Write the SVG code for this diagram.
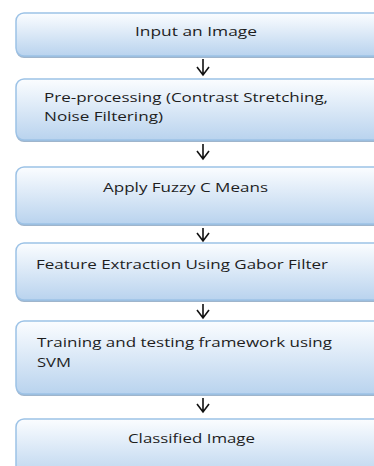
<svg xmlns="http://www.w3.org/2000/svg" width="374" height="466" viewBox="0 0 374 466">
<style>
.box{fill:url(#g);stroke:#9cc2e6;stroke-width:1.5}
.sh{fill:#9fb5cc}
.t{font-family:"Open Sans","Liberation Sans",sans-serif;font-size:13px;fill:#1e1e1e}
.ar{fill:none;stroke:#111;stroke-width:1.6}
</style>
<defs>
<linearGradient id="g" x1="0" y1="0" x2="0" y2="1">
<stop offset="0" stop-color="#fbfdff"/>
<stop offset="1" stop-color="#b9d3ee"/>
</linearGradient>
</defs>
<rect width="374" height="466" fill="#fff"/>
<g id="n1">
<rect class="sh" x="16" y="15" width="400" height="43" rx="8"/>
<rect class="box" x="16" y="13" width="400" height="43" rx="8"/>
<text class="t" x="135" y="36" textLength="122" lengthAdjust="spacingAndGlyphs">Input an Image</text>
</g>
<g id="n2">
<rect class="sh" x="16" y="81" width="400" height="61" rx="8"/>
<rect class="box" x="16" y="79" width="400" height="61" rx="8"/>
<text class="t" x="44" y="102" textLength="284" lengthAdjust="spacingAndGlyphs">Pre-processing (Contrast Stretching,</text>
<text class="t" x="44" y="121" textLength="119" lengthAdjust="spacingAndGlyphs">Noise Filtering)</text>
</g>
<g id="n3">
<rect class="sh" x="16" y="169" width="400" height="57" rx="8"/>
<rect class="box" x="16" y="167" width="400" height="57" rx="8"/>
<text class="t" x="103" y="192" textLength="165" lengthAdjust="spacingAndGlyphs">Apply Fuzzy C Means</text>
</g>
<g id="n4">
<rect class="sh" x="16" y="245" width="400" height="57" rx="8"/>
<rect class="box" x="16" y="243" width="400" height="57" rx="8"/>
<text class="t" x="36" y="269" textLength="292" lengthAdjust="spacingAndGlyphs">Feature Extraction Using Gabor Filter</text>
</g>
<g id="n5">
<rect class="sh" x="16" y="323" width="400" height="73" rx="8"/>
<rect class="box" x="16" y="321" width="400" height="73" rx="8"/>
<text class="t" x="37" y="347" textLength="295" lengthAdjust="spacingAndGlyphs">Training and testing framework using</text>
<text class="t" x="37" y="367" textLength="34" lengthAdjust="spacingAndGlyphs">SVM</text>
</g>
<g id="n6">
<rect class="sh" x="16" y="421" width="400" height="60" rx="8"/>
<rect class="box" x="16" y="419" width="400" height="60" rx="8"/>
<text class="t" x="128" y="443" textLength="127" lengthAdjust="spacingAndGlyphs">Classified Image</text>
</g>
<g id="connectors">
<path class="ar" d="M203 59V75M197 67L203 75L209 67"/>
<path class="ar" d="M203 144V159M197 151L203 159L209 151"/>
<path class="ar" d="M203 228V241M197 233L203 241L209 233"/>
<path class="ar" d="M203 304V318M197 310L203 318L209 310"/>
<path class="ar" d="M203 398V412M197 404L203 412L209 404"/>
</g>
</svg>
